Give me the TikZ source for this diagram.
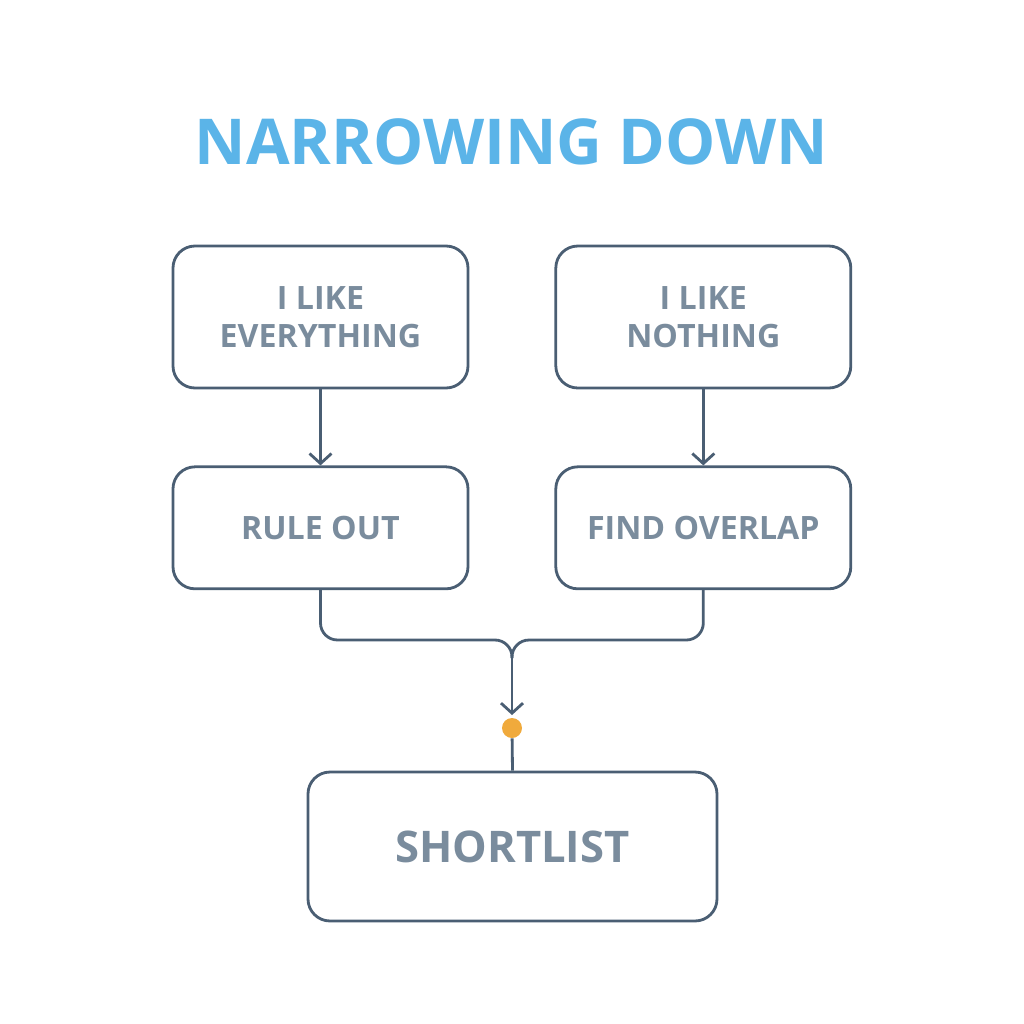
\documentclass[tikz,border=0pt]{standalone}
\usepackage{fontspec}
\setmainfont{Open Sans}
\usepackage{tikz}
\usetikzlibrary{arrows.meta,positioning,calc}
\definecolor{slateline}{HTML}{4A5E73}
\definecolor{slatetext}{HTML}{7A8C9D}
\definecolor{titleblue}{HTML}{5BB4E8}
\definecolor{dotorange}{HTML}{F0AA3C}

\begin{document}
\begin{tikzpicture}[
  node distance=1.52cm and 1.70cm,
  stepbox/.style={draw=slateline, line width=1.6pt, rounded corners=0.44cm, align=center, text=slatetext,
    font=\fontsize{18.3}{21.6}\selectfont\bfseries, minimum width=5.9cm, minimum height=2.84cm, inner sep=2pt},
  line/.style={draw=slateline, line width=1.6pt},
  arr/.style={line, -{Straight Barb[length=2mm, width=4.4mm, line width=1.6pt]}},
  ttl/.style={font=\fontsize{36}{40}\selectfont\bfseries, text=titleblue}]
\useasboundingbox (0,0) rectangle (20.48,-20.48);
\node[ttl] (title) at (10.23,-2.84) {NARROWING DOWN};
\node[stepbox] (likeall) at (6.41,-6.34) {I LIKE\\EVERYTHING};
\node[stepbox, right=of likeall] (likenone) {I LIKE\\NOTHING};
\node[stepbox, below=of likeall, minimum height=2.44cm] (ruleout) {RULE OUT};
\node[stepbox, below=of likenone, minimum height=2.44cm] (overlap) {FIND OVERLAP};
\node[stepbox, minimum width=8.18cm, minimum height=2.98cm, font=\fontsize{24.8}{28}\selectfont\bfseries] (shortlist) at (10.25,-16.93) {SHORTLIST};
\foreach \a/\b in {likeall/ruleout,likenone/overlap} \draw[arr] (\a) -- (\b);
% merging both branches
\coordinate (join) at (10.24,-12.8);
\coordinate (merge) at (10.24,-13.16);
\node[circle, fill=dotorange, minimum size=0.4cm, inner sep=0pt] (dot) at (10.24,-14.56) {};
\draw[line, rounded corners=0.34cm] (ruleout.south) |- (join) -- (merge);
\draw[line, rounded corners=0.34cm] (overlap.south) |- (join) -- (merge);
\draw[arr, shorten >=1.5pt] (merge) -- (dot.north);
\draw[line] (dot) -- (shortlist.north);
\end{tikzpicture}
\end{document}
